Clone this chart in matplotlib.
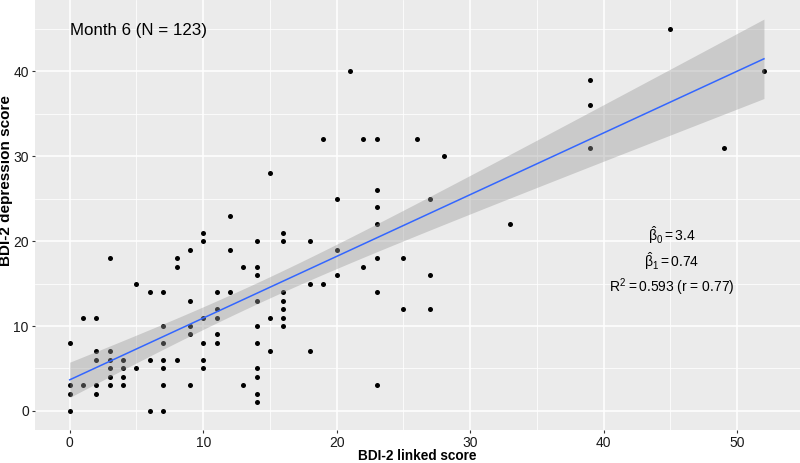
import numpy as np
import matplotlib
matplotlib.use('Agg')
import matplotlib.pyplot as plt
from matplotlib.ticker import MultipleLocator

######## data (linked score -> depression scores)
linked = [0]*4 + [1]*2 + [2]*5 + [3]*6 + [4]*4 + [5]*2 + [6]*3 + [7]*7 + [8]*3 + [9]*5 \
    + [10]*6 + [11]*5 + [12]*3 + [13]*2 + [14]*10 + [15]*3 + [16]*7 + [18]*3 + [19]*2 \
    + [20]*3 + [21] + [22]*2 + [23]*7 + [25]*2 + [26] + [27]*3 + [28] + [33] + [39]*3 \
    + [45] + [49] + [52]
depression = [8, 3, 2, 0,
              11, 3,
              11, 7, 6, 3, 2,
              18, 7, 6, 5, 4, 3,
              6, 5, 4, 3,
              15, 5,
              14, 6, 0,
              14, 10, 8, 6, 5, 3, 0,
              18, 17, 6,
              19, 13, 10, 9, 3,
              21, 20, 11, 8, 6, 5,
              14, 12, 11, 9, 8,
              23, 19, 14,
              17, 3,
              20, 17, 16, 13, 10, 8, 5, 4, 2, 1,
              28, 11, 7,
              21, 20, 14, 13, 12, 11, 10,
              20, 15, 7,
              32, 15,
              25, 19, 16,
              40,
              32, 17,
              32, 26, 24, 22, 18, 14, 3,
              18, 12,
              32,
              25, 16, 12,
              30,
              22,
              39, 36, 31,
              45,
              31,
              40]

title_txt = 'Month 6 (N = 123)'
stats_txt = [r'$\hat{\beta}_0 = 3.4$', r'$\hat{\beta}_1 = 0.74$', r'$R^2 = 0.593$ (r = 0.77)']

x = np.array(linked, dtype=float)
y = np.array(depression, dtype=float)

plt.rcParams['font.family'] = ['Liberation Sans', 'DejaVu Sans']
plt.rcParams['mathtext.fontset'] = 'custom'
plt.rcParams['mathtext.rm'] = 'Liberation Sans'
plt.rcParams['mathtext.it'] = 'Liberation Sans'
plt.rcParams['mathtext.bf'] = 'Liberation Sans:bold'

fig = plt.figure(figsize=(8, 4.63), dpi=100)
ax = fig.add_axes([35/800, 33/463, 765/800, 430/463])
ax.set_facecolor('#EBEBEB')
for s in ax.spines.values():
    s.set_visible(False)

###### linear fit + 95% band
b1, b0 = np.polyfit(x, y, 1)
n = len(x)
resid = y - (b0 + b1*x)
se = np.sqrt(np.sum(resid**2)/(n-2))
xs = np.linspace(x.min(), x.max(), 80)
fit = b0 + b1*xs
band = 1.98*se*np.sqrt(1/n + (xs - x.mean())**2/np.sum((x - x.mean())**2))

ax.scatter(x, y, s=13, color='black', zorder=2, linewidths=0)
ax.fill_between(xs, fit - band, fit + band, color='#999999', alpha=0.4, linewidth=0, zorder=3)
ax.plot(xs, fit, color='#3366FF', lw=1.1, zorder=4)

ax.set_xlim(-2.6, 54.7)
ax.set_ylim(-2.25, 48.4)
ax.xaxis.set_major_locator(MultipleLocator(10))
ax.xaxis.set_minor_locator(MultipleLocator(5))
ax.yaxis.set_major_locator(MultipleLocator(10))
ax.yaxis.set_minor_locator(MultipleLocator(5))
ax.grid(which='major', color='white', lw=1.1, zorder=0)
ax.grid(which='minor', color='white', lw=0.55, zorder=0)
ax.set_axisbelow(True)
ax.tick_params(which='major', length=2.5, width=0.8, color='#333333', labelsize=10, labelcolor='#1a1a1a', pad=2)
ax.tick_params(which='minor', length=0)

ax.set_xlabel('BDI-2 linked score', fontsize=9.8, fontweight='bold')
ax.xaxis.set_label_coords(0.5, -30/430)
ax.xaxis.label.set_va('baseline')
ax.set_ylabel('BDI-2 depression score', fontsize=11, fontweight='bold')
ax.yaxis.set_label_coords(-29/765, (430-181)/430)
ax.yaxis.label.set_va('center')

ax.text(0, 44.8, title_txt, fontsize=12.2, ha='left', va='center')
for txt, yy in zip(stats_txt, [20.0, 17.0, 14.05]):
    ax.text(45.1, yy, txt, fontsize=10, ha='center', va='baseline')

fig.savefig('out.png', dpi=100)
